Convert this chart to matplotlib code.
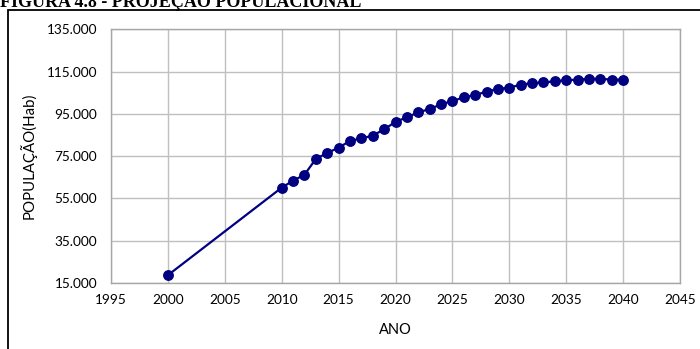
import matplotlib.pyplot as plt
from matplotlib.patches import Rectangle
from matplotlib.ticker import FuncFormatter

# Projeção populacional (habitantes por ano)
anos = [2000, 2010, 2011, 2012, 2013, 2014, 2015, 2016, 2017, 2018, 2019,
        2020, 2021, 2022, 2023, 2024, 2025, 2026, 2027, 2028, 2029, 2030,
        2031, 2032, 2033, 2034, 2035, 2036, 2037, 2038, 2039, 2040]
populacao = [18700, 60100, 63400, 66200, 73700, 76500, 79000, 82200, 83400,
             84700, 87700, 91200, 93400, 95700, 97300, 99500, 101100, 102800,
             103900, 105500, 106800, 107400, 108800, 109500, 109900, 110400,
             110900, 111200, 111600, 111600, 111200, 111200]

ticks_x = list(range(1995, 2050, 5))
ticks_y = list(range(15000, 140000, 20000))

titulo = "FIGURA 4.8 - PROJEÇÃO POPULACIONAL"
rotulo_x = "ANO"
rotulo_y = "POPULAÇÃO(Hab)"

plt.rcParams["font.family"] = ["Lato", "DejaVu Sans"]

fig = plt.figure(figsize=(7.0, 3.49), dpi=100)
ax = fig.add_axes([111 / 700, 1 - 283 / 349, (680 - 111) / 700, (283 - 29.3) / 349])

ax.plot(anos, populacao, color="#000080", linewidth=1.6, marker="o",
        markersize=6.8, zorder=3)

ax.set_xlim(1995, 2045)
ax.set_ylim(15000, 135000)
ax.set_xticks(ticks_x)
ax.set_yticks(ticks_y)
ax.yaxis.set_major_formatter(FuncFormatter(lambda v, p: f"{v:,.0f}".replace(",", ".")))

ax.grid(True, color="#BFBFBF", linewidth=1.0)
ax.set_axisbelow(True)
for s in ax.spines.values():
    s.set_color("#A6A6A6")
    s.set_linewidth(1.0)
ax.tick_params(length=0, labelsize=9.8, colors="black")
ax.tick_params(axis="y", pad=10)
ax.tick_params(axis="x", pad=8)

fig.text(28 / 700, 1 - 156 / 349, rotulo_y, rotation=90, ha="center",
         va="center", fontsize=10.8)
fig.text(395 / 700, 1 - 330 / 349, rotulo_x, ha="center", va="center",
         fontsize=10.5)

# título cortado no topo e moldura em volta do gráfico
fig.text(0.0, 1 - 7 / 349, titulo, ha="left", va="baseline",
         fontsize=13, fontweight="bold", family="Liberation Serif")
fig.patches.append(Rectangle((8 / 700, -0.1), 1.0, 1 - 10 / 349 + 0.1,
                             transform=fig.transFigure, fill=False,
                             edgecolor="black", linewidth=1.3))

fig.savefig("out.png", dpi=100)
